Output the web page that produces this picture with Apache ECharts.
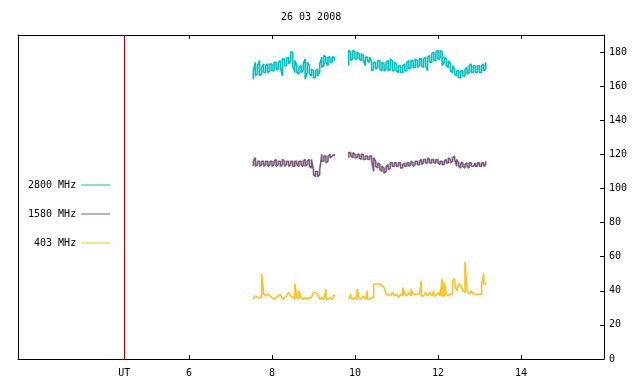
<!doctype html>
<html>
<head>
<meta charset="utf-8">
<title>26 03 2008</title>
<script src="https://cdn.jsdelivr.net/npm/echarts@6/dist/echarts.min.js"></script>
<style>
	html, body { margin: 0; padding: 0; background: #fff; }
	#chart { width: 640px; height: 384px; }
</style>
</head>
<body>
<div id="chart"></div>
<script>
	// UT hours of each sample, morning block and afternoon block (gap between them)
	var hoursA = [7.55, 7.60, 7.65, 7.70, 7.75, 7.80, 7.85, 7.90, 7.95, 8.00,
		8.05, 8.10, 8.15, 8.20, 8.25, 8.30, 8.35, 8.40, 8.45, 8.50,
		8.55, 8.60, 8.65, 8.70, 8.75, 8.80, 8.85, 8.90, 8.95, 9.00,
		9.05, 9.10, 9.15, 9.20, 9.25, 9.30, 9.35, 9.40, 9.45, 9.50];
	var hoursB = [9.85, 9.90, 9.95, 10.00, 10.05, 10.10, 10.15, 10.20, 10.25, 10.30,
		10.35, 10.40, 10.45, 10.50, 10.55, 10.60, 10.65, 10.70, 10.75, 10.80,
		10.85, 10.90, 10.95, 11.00, 11.05, 11.10, 11.15, 11.20, 11.25, 11.30,
		11.35, 11.40, 11.45, 11.50, 11.55, 11.60, 11.65, 11.70, 11.75, 11.80,
		11.85, 11.90, 11.95, 12.00, 12.05, 12.10, 12.15, 12.20, 12.25, 12.30,
		12.35, 12.40, 12.45, 12.50, 12.55, 12.60, 12.65, 12.70, 12.75, 12.80,
		12.85, 12.90, 12.95, 13.00, 13.05, 13.10, 13.15];
	var gapHour = 9.675;

	// min / max flux within each sample bin
	var f2800LoA = [164, 166, 167, 166, 167, 168, 168, 168, 169, 169,
		169, 170, 170, 171, 166, 172, 172, 173, 175, 172,
		168, 168, 167, 168, 169, 164, 168, 167, 166, 165,
		165, 166, 168, 171, 172, 174, 172, 174, 174, 175];
	var f2800HiA = [169, 174, 172, 175, 171, 173, 172, 173, 173, 173,
		174, 174, 174, 175, 176, 176, 176, 177, 180, 180,
		175, 172, 171, 172, 173, 176, 174, 172, 170, 169,
		169, 170, 173, 177, 178, 177, 177, 177, 177, 177];
	var f2800LoB = [172, 175, 176, 176, 176, 176, 175, 175, 172, 175,
		174, 169, 170, 170, 171, 170, 169, 169, 170, 169,
		170, 169, 169, 169, 168, 168, 168, 169, 169, 170,
		171, 171, 171, 171, 172, 172, 171, 172, 169, 174,
		174, 175, 175, 176, 176, 172, 174, 172, 171, 169,
		168, 167, 166, 165, 165, 166, 166, 167, 168, 168,
		168, 168, 168, 168, 168, 169, 170];
	var f2800HiB = [181, 180, 181, 180, 180, 179, 179, 178, 177, 177,
		177, 175, 174, 174, 175, 175, 174, 173, 174, 175,
		176, 175, 174, 173, 172, 172, 172, 173, 174, 175,
		175, 175, 176, 175, 176, 176, 176, 177, 177, 178,
		179, 180, 180, 181, 181, 180, 177, 176, 175, 173,
		172, 170, 169, 169, 169, 169, 170, 171, 172, 173,
		172, 172, 172, 172, 172, 173, 174];

	var f1580LoA = [113, 113, 114, 113, 114, 113, 114, 113, 114, 113,
		114, 113, 114, 113, 114, 113, 114, 113, 114, 113,
		113, 114, 113, 114, 113, 113, 114, 113, 112, 108,
		107, 107, 108, 116, 116, 115, 116, 118, 119, 119];
	var f1580HiA = [116, 118, 116, 116, 116, 116, 116, 116, 116, 116,
		116, 117, 116, 116, 117, 116, 116, 116, 116, 116,
		116, 116, 116, 116, 116, 117, 116, 117, 117, 111,
		110, 110, 111, 120, 119, 119, 119, 120, 120, 120];
	var f1580LoB = [118, 119, 118, 118, 118, 118, 117, 117, 117, 117,
		117, 116, 110, 113, 112, 111, 110, 109, 110, 111,
		112, 113, 113, 113, 113, 112, 112, 113, 113, 113,
		114, 113, 114, 114, 114, 114, 115, 115, 115, 115,
		115, 115, 115, 115, 114, 114, 114, 115, 115, 115,
		116, 117, 113, 113, 112, 113, 112, 113, 112, 113,
		113, 113, 113, 113, 113, 113, 114];
	var f1580HiB = [121, 121, 121, 120, 120, 120, 120, 120, 119, 119,
		119, 119, 118, 116, 115, 114, 113, 112, 113, 114,
		115, 115, 115, 115, 115, 115, 114, 115, 115, 115,
		116, 115, 116, 116, 116, 117, 117, 117, 118, 117,
		117, 117, 117, 117, 116, 116, 116, 117, 118, 117,
		118, 119, 117, 115, 115, 115, 114, 115, 115, 115,
		114, 115, 115, 115, 115, 115, 116];

	var f403LoA = [35, 36, 36, 35, 36, 37, 37, 37, 37, 35,
		35, 35, 37, 37, 35, 35, 37, 38, 37, 35,
		35, 35, 35, 35, 35, 35, 35, 35, 36, 38,
		39, 37, 35, 35, 35, 35, 35, 35, 35, 37];
	var f403HiA = [36, 37, 37, 36, 50, 38, 38, 38, 38, 36,
		36, 36, 38, 38, 36, 36, 38, 39, 38, 36,
		44, 36, 40, 36, 36, 36, 36, 36, 37, 39,
		40, 38, 36, 36, 36, 41, 36, 36, 36, 38];
	var f403LoB = [35, 36, 35, 35, 35, 35, 35, 36, 35, 35,
		35, 35, 36, 43, 44, 43, 43, 41, 38, 37,
		37, 38, 37, 37, 36, 37, 37, 37, 37, 38,
		37, 37, 38, 37, 38, 37, 37, 38, 37, 38,
		37, 37, 37, 38, 37, 37, 37, 37, 37, 37,
		38, 45, 40, 43, 43, 39, 39, 39, 38, 39,
		38, 37, 38, 37, 38, 44, 44];
	var f403HiB = [36, 38, 36, 36, 41, 36, 36, 37, 36, 40,
		36, 36, 44, 44, 45, 44, 44, 42, 39, 38,
		38, 39, 38, 38, 37, 38, 42, 38, 38, 39,
		41, 38, 39, 38, 39, 46, 38, 39, 38, 39,
		38, 40, 38, 39, 38, 47, 45, 38, 38, 38,
		46, 47, 41, 44, 44, 40, 57, 40, 39, 40,
		39, 38, 39, 38, 44, 50, 45];

	var xTicks = [6, 8, 10, 12, 14];
	var yTicks = [0, 20, 40, 60, 80, 100, 120, 140, 160, 180];
	var utHour = 4.44;
	var font = 'DejaVu Sans Mono';

	// each bin becomes a vertical stroke lo..hi, so the noisy record reads as a band
	function envelope(hours, lo, hi, out) {
		for (var i = 0; i < hours.length; i++) {
			if (i % 2 === 0) {
				out.push([hours[i], lo[i]], [hours[i], hi[i]]);
			} else {
				out.push([hours[i], hi[i]], [hours[i], lo[i]]);
			}
		}
		return out;
	}

	function joinBlocks(loA, hiA, loB, hiB) {
		var out = envelope(hoursA, loA, hiA, []);
		out.push([gapHour, '-']);
		return envelope(hoursB, loB, hiB, out);
	}

	function lineSeries(name, color, data) {
		return {
			name: name,
			type: 'line',
			symbol: 'none',
			showSymbol: false,
			sampling: 'none',
			connectNulls: false,
			xAxisIndex: 0,
			yAxisIndex: 0,
			lineStyle: { color: color, width: 1.6 },
			itemStyle: { color: color },
			emphasis: { disabled: true },
			data: data
		};
	}

	var chart = echarts.init(document.getElementById('chart'));

	var s2800 = lineSeries('2800 MHz', '#00c0c0', joinBlocks(f2800LoA, f2800HiA, f2800LoB, f2800HiB));
	s2800.markLine = {
		silent: true,
		animation: false,
		symbol: ['none', 'none'],
		label: { show: false },
		lineStyle: { color: '#a00000', width: 1, type: 'solid' },
		data: [{ xAxis: utHour }]
	};

	chart.setOption({
		animation: false,
		textStyle: { fontFamily: font, fontSize: 10, color: '#000' },
		title: {
			text: '26 03 2008',
			left: 281,
			top: 12,
			padding: 0,
			textStyle: { fontFamily: font, fontSize: 10, fontWeight: 'normal', color: '#000' }
		},
		legend: {
			orient: 'vertical',
			left: 28,
			top: 180,
			padding: 0,
			icon: 'rect',
			itemWidth: 29,
			itemHeight: 1,
			itemGap: 19,
			align: 'right',
			selectedMode: false,
			formatter: function(name) {
				return name.length < 8 ? ' ' + name : name;
			},
			textStyle: { fontFamily: font, fontSize: 10, color: '#000' },
			data: ['2800 MHz', '1580 MHz', '403 MHz']
		},
		grid: {
			left: 18,
			right: 36,
			top: 35,
			bottom: 25
		},
		xAxis: [{
			type: 'value',
			position: 'bottom',
			min: 1.88,
			max: 16,
			axisLine: { show: true, onZero: false, lineStyle: { color: '#000', width: 1 } },
			axisTick: { show: true, inside: true, length: 4, customValues: xTicks, lineStyle: { color: '#000' } },
			axisLabel: {
				customValues: [utHour].concat(xTicks),
				margin: 9,
				color: '#000',
				fontFamily: font,
				fontSize: 10,
				formatter: function(v) {
					return Math.abs(v - utHour) < 0.01 ? 'UT' : String(v);
				}
			},
			splitLine: { show: false }
		}, {
			type: 'value',
			position: 'top',
			min: 1.88,
			max: 16,
			axisLine: { show: true, onZero: false, lineStyle: { color: '#000', width: 1 } },
			axisTick: { show: true, inside: true, length: 4, customValues: xTicks, lineStyle: { color: '#000' } },
			axisLabel: { show: false },
			splitLine: { show: false }
		}],
		yAxis: [{
			type: 'value',
			position: 'right',
			min: 0,
			max: 190,
			axisLine: { show: true, onZero: false, lineStyle: { color: '#000', width: 1 } },
			axisTick: { show: true, inside: true, length: 4, customValues: yTicks, lineStyle: { color: '#000' } },
			axisLabel: { customValues: yTicks, margin: 5, color: '#000', fontFamily: font, fontSize: 10 },
			splitLine: { show: false }
		}, {
			type: 'value',
			position: 'left',
			min: 0,
			max: 190,
			axisLine: { show: true, onZero: false, lineStyle: { color: '#000', width: 1 } },
			axisTick: { show: false },
			axisLabel: { show: false },
			splitLine: { show: false }
		}],
		series: [
			s2800,
			lineSeries('1580 MHz', '#7b5a7d', joinBlocks(f1580LoA, f1580HiA, f1580LoB, f1580HiB)),
			lineSeries('403 MHz', '#ffc020', joinBlocks(f403LoA, f403HiA, f403LoB, f403HiB))
		]
	});
</script>
</body>
</html>
